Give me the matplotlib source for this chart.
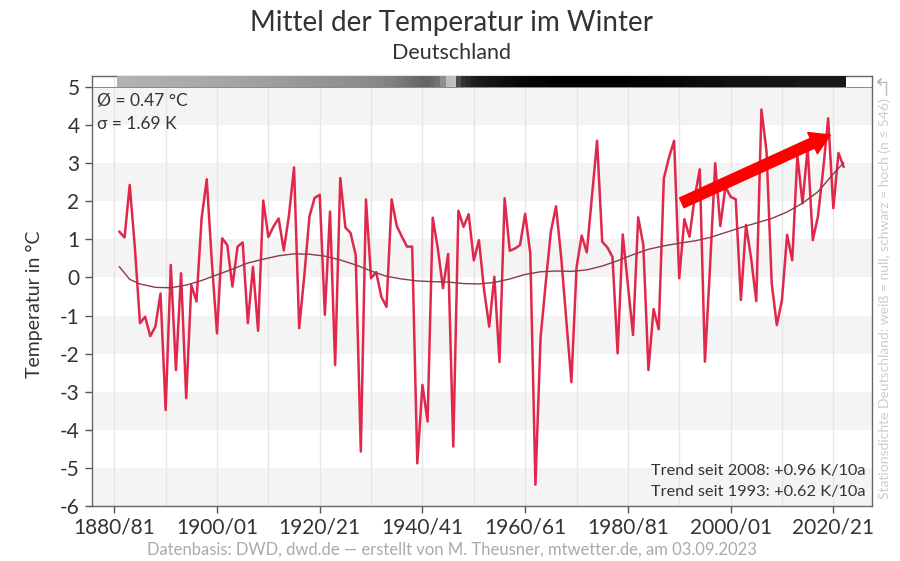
import matplotlib
matplotlib.use('Agg')
import matplotlib.pyplot as plt
from matplotlib.lines import Line2D

plt.rcParams['font.family'] = ['Lato', 'DejaVu Sans']

# winter means (Dec-Feb), Germany; x = first year of the winter
years = list(range(1881, 2023))
temps = [
    1.20, 1.05, 2.43, 0.80, -1.20, -1.03, -1.54, -1.29, -0.42, -3.48,
    0.33, -2.43, 0.11, -3.17, -0.20, -0.63, 1.55, 2.58, 0.40, -1.47,
    1.03, 0.85, -0.24, 0.81, 0.92, -1.20, 0.28, -1.40, 2.02, 1.06,
    1.34, 1.55, 0.71, 1.62, 2.89, -1.33, 0.05, 1.60, 2.09, 2.17,
    -0.98, 1.73, -2.30, 2.61, 1.31, 1.17, 0.59, -4.57, 2.05, -0.02,
    0.14, -0.51, -0.77, 2.05, 1.35, 1.07, 0.81, 0.81, -4.88, -2.82,
    -3.78, 1.57, 0.75, -0.28, 0.62, -4.44, 1.75, 1.33, 1.66, 0.45,
    0.98, -0.33, -1.29, 0.02, -2.22, 2.08, 0.70, 0.76, 0.85, 1.67,
    0.63, -5.44, -1.58, -0.15, 1.20, 1.87, 0.55, -1.10, -2.75, 0.26,
    1.10, 0.66, 2.14, 3.59, 0.94, 0.79, 0.54, -1.99, 1.13, -0.20,
    -1.51, 1.58, 0.86, -2.43, -0.83, -1.36, 2.60, 3.15, 3.59, -0.02,
    1.53, 1.07, 2.10, 2.84, -2.21, 0.30, 3.00, 1.35, 2.38, 2.12,
    2.05, -0.59, 1.38, 0.50, -0.62, 4.41, 3.30, -0.15, -1.25, -0.59,
    1.12, 0.45, 3.20, 1.95, 3.40, 0.98, 1.60, 2.80, 4.18, 1.82,
    3.27, 2.91,
]

# smoothed curve
smooth_years = [1881, 1883, 1885, 1888, 1891, 1894, 1897, 1900, 1903, 1906,
                1909, 1912, 1915, 1918, 1921, 1924, 1927, 1930, 1933, 1936,
                1939, 1942, 1945, 1948, 1951, 1954, 1957, 1960, 1963, 1966,
                1969, 1972, 1975, 1978, 1981, 1984, 1987, 1990, 1993, 1996,
                1999, 2002, 2005, 2008, 2011, 2014, 2017, 2020, 2022]
smooth_vals = [0.28, -0.05, -0.17, -0.26, -0.27, -0.20, -0.08, 0.07, 0.22, 0.38,
               0.48, 0.57, 0.62, 0.61, 0.56, 0.46, 0.33, 0.17, 0.03, -0.04,
               -0.09, -0.11, -0.12, -0.16, -0.17, -0.13, -0.04, 0.08, 0.15, 0.17,
               0.16, 0.20, 0.30, 0.44, 0.60, 0.74, 0.83, 0.90, 0.96, 1.05,
               1.18, 1.31, 1.43, 1.55, 1.72, 1.95, 2.25, 2.72, 3.01]

# station density (number of stations), shown as grey strip
stations = [
    165, 165, 168, 168, 170, 170, 172, 172, 175, 175,
    178, 178, 180, 180, 182, 182, 185, 185, 188, 188,
    190, 192, 194, 196, 198, 200, 202, 204, 206, 208,
    210, 212, 214, 216, 218, 220, 222, 224, 226, 228,
    230, 232, 234, 236, 238, 240, 242, 245, 248, 250,
    255, 260, 265, 270, 280, 290, 300, 310, 320, 330,
    330, 320, 300, 240, 140, 130, 380, 440, 460, 480,
    490, 495, 500, 505, 510, 515, 520, 525, 530, 530,
    535, 535, 540, 540, 546, 546, 546, 546, 546, 546,
    546, 546, 546, 546, 546, 546, 546, 546, 546, 546,
    540, 540, 540, 535, 535, 535, 530, 530, 530, 530,
    525, 525, 520, 520, 520, 515, 515, 515, 510, 510,
    510, 510, 505, 505, 505, 505, 500, 500, 500, 500,
    500, 500, 495, 495, 495, 495, 495, 495, 495, 495,
    495, 495,
]

grey_bands = [(4, 5), (2, 3), (0, 1), (-2, -1), (-4, -3), (-6, -5)]
xtick_years = [1880, 1900, 1920, 1940, 1960, 1980, 2000, 2020]
xtick_labels = ['1880/81', '1900/01', '1920/21', '1940/41', '1960/61',
                '1980/81', '2000/01', '2020/21']

fig = plt.figure(figsize=(9, 5.61), dpi=100)
ax = fig.add_axes([92 / 900, 1 - 506 / 561, 780 / 900, 430 / 561])

ax.set_xlim(1875.66, 2027.53)
ax.set_ylim(-6, 5.29)

for lo, hi in grey_bands:
    ax.axhspan(lo, hi, color='#f4f4f4', lw=0, zorder=0)
for x in range(1880, 2030, 10):
    ax.axvline(x, color='#e6e6e6', lw=1, zorder=1)

strip_colors = [str(1 - n / 546) for n in stations]
ax.bar(years, 0.29, bottom=5.0, width=1.0, color=strip_colors, lw=0, zorder=3)
ax.axhline(5.0, color='#777777', lw=0.6, zorder=3)

ax.plot(years, temps, color='#e0284c', lw=1.8, zorder=4)
ax.plot(smooth_years, smooth_vals, color='#8c3a4c', lw=1.0, zorder=5)

ax.annotate('', xy=(2019.4, 3.74), xytext=(1990.5, 1.96),
            arrowprops=dict(arrowstyle='simple,head_length=1.0,head_width=1.2,tail_width=0.55',
                            color='#ff0000', mutation_scale=14, shrinkA=0, shrinkB=0),
            zorder=6)

ax.set_yticks(range(-6, 6))
ax.set_yticklabels([str(v) for v in range(-6, 6)])
ax.set_xticks(xtick_years)
ax.set_xticklabels(xtick_labels)
ax.tick_params(axis='both', direction='out', length=5, width=1, color='#555555',
               labelcolor='#333333', labelsize=15)
ax.tick_params(axis='y', pad=4)
for s in ax.spines.values():
    s.set_color('#666666')
    s.set_linewidth(1)

ax.set_ylabel('Temperatur in °C', fontsize=14, color='#333333')
ax.yaxis.set_label_coords(-0.063, 0.47)

ax.text(1876.6, 4.63, 'Ø = 0.47 °C', ha='left', va='center',
        fontsize=12.5, color='#333333', zorder=7)
ax.text(1876.6, 4.03, 'σ = 1.69 K', ha='left', va='center',
        fontsize=12.5, color='#333333', zorder=7)
ax.text(2026.36, -5.08, 'Trend seit 2008: +0.96 K/10a', ha='right', va='center',
        fontsize=11.8, color='#333333', zorder=7)
ax.text(2026.36, -5.63, 'Trend seit 1993: +0.62 K/10a', ha='right', va='center',
        fontsize=11.8, color='#333333', zorder=7)

fig.text(0.502, 0.959, 'Mittel der Temperatur im Winter', ha='center', va='center',
         fontsize=20, color='#333333')
fig.text(0.502, 0.905, 'Deutschland', ha='center', va='center', fontsize=15.5, color='#333333')
fig.text(0.502, 0.02, 'Datenbasis: DWD, dwd.de — erstellt von M. Theusner, mtwetter.de, am 03.09.2023',
         ha='center', va='center', fontsize=12, color='#aaaaaa')
fig.text(885 / 900, 1 - 98 / 561, 'Stationsdichte Deutschland: weiß = null, schwarz = hoch (n ≤ 546)',
         rotation=90, ha='center', va='top', fontsize=10, color='#cccccc')

# little pointer from the side label to the strip
fig.add_artist(Line2D([886 / 900, 886 / 900], [1 - 95 / 561, 1 - 82 / 561],
                      transform=fig.transFigure, color='#bbbbbb', lw=1))
fig.add_artist(Line2D([878 / 900, 886 / 900], [1 - 82 / 561, 1 - 82 / 561],
                      transform=fig.transFigure, color='#bbbbbb', lw=1))
fig.add_artist(Line2D([878 / 900, 881 / 900, 878 / 900, 881 / 900],
                      [1 - 82 / 561, 1 - 79 / 561, 1 - 82 / 561, 1 - 85 / 561],
                      transform=fig.transFigure, color='#bbbbbb', lw=1))

fig.savefig('out.png', dpi=100)
